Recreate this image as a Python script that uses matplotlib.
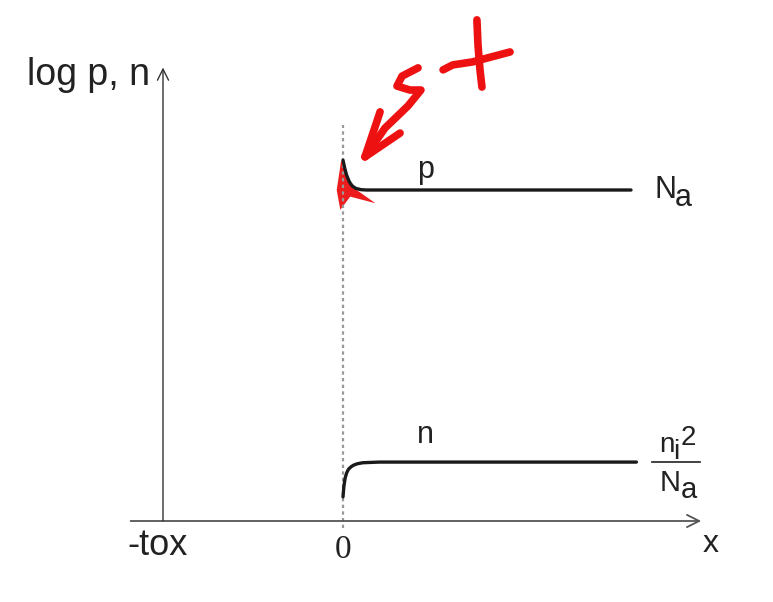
import numpy as np
import matplotlib
matplotlib.use("Agg")
import matplotlib.pyplot as plt
from matplotlib.patches import Polygon

plt.rcParams['font.family'] = ['Liberation Sans', 'DejaVu Sans']

# ---- chart values (x: 0 = oxide/silicon interface, -1 = -tox; y: log conc.) ----
tox = 1.0
x_end = 1.95
p_x = [0.0, 0.01, 0.02, 0.035, 0.05, 0.07, 0.1, 0.13, 0.2, 1.6]
p_y = [10.9, 10.65, 10.45, 10.25, 10.13, 10.05, 10.01, 10.0, 10.0, 10.0]
n_x = [0.0, 0.005, 0.012, 0.02, 0.03, 0.045, 0.06, 0.08, 0.11, 0.2, 1.63]
n_y = [0.73, 1.05, 1.3, 1.45, 1.56, 1.64, 1.69, 1.73, 1.76, 1.78, 1.78]
y_top = 13.7

# red hand-written annotation ("s +" with an arrow at the surface)
plus_h = ([0.556, 0.61, 0.72, 0.928], [13.63, 13.78, 13.87, 14.17])
plus_v = ([0.744, 0.75, 0.761, 0.772], [15.14, 14.38, 13.63, 13.11])
s_x = [0.417, 0.328, 0.3, 0.372, 0.433, 0.361, 0.233, 0.122]
s_y = [13.69, 13.44, 13.14, 13.02, 13.02, 12.54, 11.87, 11.0]
head_x = [0.206, 0.122, 0.317]
head_y = [12.36, 11.0, 11.72]
spike_x = [-0.01, 0.05, 0.18, 0.04, -0.015, -0.035]
spike_y = [10.9, 10.1, 9.6, 9.8, 9.4, 10.0]

fig = plt.figure(figsize=(7.73, 6.02), dpi=100)
ax = fig.add_axes([0, 0, 1, 1])
ax.set_xlim(-343 / 180, 430 / 180)
ax.set_ylim(-81 / 33.1, 521 / 33.1)
ax.axis('off')

# axes
ax.annotate('', xy=(x_end + 0.04, 0), xytext=(-1.18, 0),
            arrowprops=dict(arrowstyle='->', color='#555555', lw=1.3,
                            mutation_scale=22, shrinkA=0, shrinkB=0))
ax.annotate('', xy=(-tox, y_top), xytext=(-tox, 0),
            arrowprops=dict(arrowstyle='->', color='#333333', lw=1.0,
                            mutation_scale=20, shrinkA=0, shrinkB=0))
ax.plot([0, 0], [-0.21, 11.96], ls=(0, (1.5, 1.5)), color='#999999', lw=1.6)

# carrier profiles
ax.plot(p_x, p_y, color='#1a1a1a', lw=2.4, solid_capstyle='round')
ax.plot(n_x, n_y, color='#1a1a1a', lw=2.4, solid_capstyle='round')

# labels
ink = '#222222'
ax.text(-1.756, 13.47, 'log p, n', fontsize=27, va='center', ha='left', color=ink)
ax.text(-1.03, -0.75, '-tox', fontsize=26, va='center', ha='center', color=ink)
ax.text(0, -0.88, '0', fontsize=24, va='center', ha='center', color=ink,
        family=['Liberation Serif', 'DejaVu Serif'])
ax.text(2.04, -0.68, 'x', fontsize=23, va='center', ha='center', color=ink)
ax.text(0.456, 10.6, 'p', fontsize=22, va='center', ha='center', color=ink)
ax.text(0.456, 2.6, 'n', fontsize=22, va='center', ha='center', color=ink)

ax.text(1.733, 10.0, 'N', fontsize=22, va='center', ha='left', color=ink)
ax.text(1.845, 9.75, 'a', fontsize=22, va='center', ha='left', color=ink)

ax.text(1.755, 2.29, 'n', fontsize=20, va='center', ha='left', color=ink)
ax.text(1.832, 2.08, 'i', fontsize=20, va='center', ha='left', color=ink)
ax.text(1.878, 2.5, '2', fontsize=20, va='center', ha='left', color=ink)
ax.plot([1.716, 1.983], [1.79, 1.79], color='#333333', lw=1.3)
ax.text(1.76, 1.15, 'N', fontsize=21, va='center', ha='left', color=ink)
ax.text(1.875, 0.93, 'a', fontsize=21, va='center', ha='left', color=ink)

# red annotation
red = '#ee1111'
for xs, ys in (plus_h, plus_v, (s_x, s_y), (head_x, head_y)):
    ax.plot(xs, ys, color=red, lw=5.5, solid_capstyle='round', solid_joinstyle='round')
ax.add_patch(Polygon(np.column_stack([spike_x, spike_y]), closed=True,
                     color=red, alpha=0.95, lw=0))

fig.savefig('out.png', dpi=100)
